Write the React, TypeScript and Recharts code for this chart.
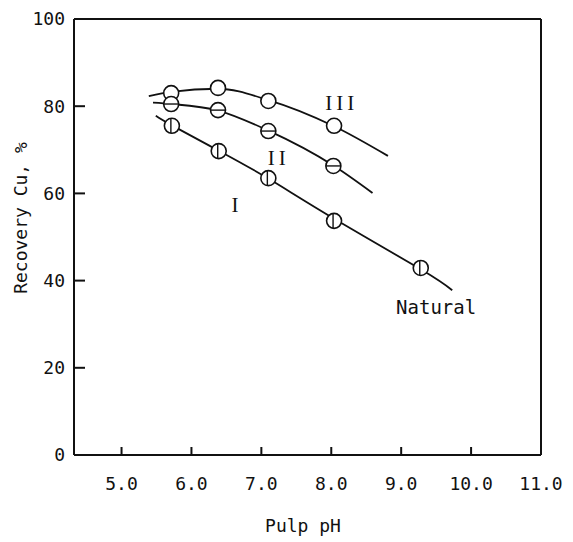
import { ComposedChart, Line, Scatter, XAxis, YAxis } from "recharts";

const xTicks = [5, 6, 7, 8, 9, 10, 11];
const yTicks = [0, 20, 40, 60, 80, 100];

// measured recovery points (pulp pH, recovery %)
const pointsIII = [
  { x: 5.71, y: 83.0 },
  { x: 6.38, y: 84.2 },
  { x: 7.1, y: 81.2 },
  { x: 8.04, y: 75.5 },
];
const pointsII = [
  { x: 5.71, y: 80.5 },
  { x: 6.38, y: 79.1 },
  { x: 7.1, y: 74.3 },
  { x: 8.03, y: 66.3 },
];
const pointsI = [
  { x: 5.72, y: 75.5 },
  { x: 6.39, y: 69.7 },
  { x: 7.1, y: 63.5 },
  { x: 8.04, y: 53.7 },
  { x: 9.28, y: 42.9 },
];

// hand drawn trend curves
const curveIII = [
  { x: 5.39, y: 82.3 },
  { x: 5.71, y: 83.3 },
  { x: 6.38, y: 84.0 },
  { x: 7.1, y: 81.4 },
  { x: 8.04, y: 75.4 },
  { x: 8.81, y: 68.6 },
];
const curveII = [
  { x: 5.45, y: 80.8 },
  { x: 5.71, y: 80.5 },
  { x: 6.38, y: 79.0 },
  { x: 7.1, y: 74.4 },
  { x: 8.03, y: 66.4 },
  { x: 8.59, y: 60.1 },
];
const curveI = [
  { x: 5.49, y: 77.8 },
  { x: 5.72, y: 75.6 },
  { x: 6.39, y: 69.8 },
  { x: 7.1, y: 63.4 },
  { x: 8.04, y: 54.2 },
  { x: 9.28, y: 42.6 },
  { x: 9.73, y: 37.8 },
];

const notes = [
  { x: 8.15, y: 80.7, text: "III", roman: true },
  { x: 7.25, y: 68.2, text: "II", roman: true },
  { x: 6.65, y: 57.4, text: "I", roman: true },
  { x: 9.5, y: 34.0, text: "Natural", roman: false },
];

const MONO = "'DejaVu Sans Mono', 'Liberation Mono', monospace";
const SERIF = "'Liberation Serif', 'DejaVu Serif', serif";
const INK = "#111";

function makeMarker(bar: "none" | "h" | "v") {
  return (props: any) => {
    const { cx, cy } = props;
    const r = 7.5;
    return (
      <g>
        <circle cx={cx} cy={cy} r={r} fill="#fff" stroke={INK} strokeWidth={1.6} />
        {bar === "h" && <line x1={cx - r} x2={cx + r} y1={cy} y2={cy} stroke={INK} strokeWidth={1.4} />}
        {bar === "v" && <line x1={cx - 1} x2={cx - 1} y1={cy - r} y2={cy + r} stroke={INK} strokeWidth={1.4} />}
      </g>
    );
  };
}

function NoteText(props: any) {
  const { cx, cy, payload } = props;
  return (
    <text
      x={cx}
      y={cy}
      textAnchor="middle"
      dominantBaseline="central"
      fontFamily={payload.roman ? SERIF : MONO}
      fontSize={payload.roman ? 21 : 19}
      letterSpacing={payload.roman ? 4 : 0}
      fill={INK}
    >
      {payload.text}
    </text>
  );
}

const tickStyle = { fontFamily: MONO, fontSize: 18, fill: INK };
const lineStyle = { stroke: INK, strokeWidth: 2 };

export default function App() {
  return (
    <div style={{ position: "absolute", left: 0, top: 0, width: 573, height: 542, background: "#fff" }}>
      <ComposedChart width={573} height={542} margin={{ top: 0, right: 0, bottom: 0, left: 0 }}>
        <XAxis
          type="number"
          dataKey="x"
          domain={[4.32, 11]}
          ticks={xTicks}
          interval={0}
          allowDataOverflow
          height={87}
          tickSize={-8}
          tickMargin={30}
          tickFormatter={(v: number) => v.toFixed(1)}
          tick={tickStyle}
          axisLine={lineStyle}
          tickLine={lineStyle}
          label={{
            content: () => (
              <text x={303} y={525} textAnchor="middle" dominantBaseline="central" fontFamily={MONO} fontSize={18} fill={INK}>
                Pulp pH
              </text>
            ),
          }}
        />
        <XAxis
          xAxisId="top"
          orientation="top"
          type="number"
          domain={[4.32, 11]}
          ticks={xTicks.slice(0, 6)}
          interval={0}
          allowDataOverflow
          height={19}
          tickSize={-9}
          tick={false}
          axisLine={lineStyle}
          tickLine={lineStyle}
        />
        <YAxis
          type="number"
          domain={[0, 100]}
          ticks={yTicks}
          interval={0}
          allowDataOverflow
          width={74}
          tickSize={-11}
          tickMargin={20}
          tick={tickStyle}
          axisLine={lineStyle}
          tickLine={lineStyle}
          label={{
            content: () => (
              <text
                transform="translate(20,218) rotate(-90)"
                textAnchor="middle"
                dominantBaseline="central"
                fontFamily={MONO}
                fontSize={18}
                fill={INK}
              >
                Recovery Cu, %
              </text>
            ),
          }}
        />
        <YAxis
          yAxisId="right"
          orientation="right"
          type="number"
          domain={[0, 100]}
          ticks={yTicks}
          interval={0}
          allowDataOverflow
          width={32}
          tickSize={-12}
          tick={false}
          axisLine={lineStyle}
          tickLine={lineStyle}
        />

        <Line data={curveIII} dataKey="y" type="monotone" stroke={INK} strokeWidth={1.8} dot={false} activeDot={false} isAnimationActive={false} />
        <Line data={curveII} dataKey="y" type="monotone" stroke={INK} strokeWidth={1.8} dot={false} activeDot={false} isAnimationActive={false} />
        <Line data={curveI} dataKey="y" type="natural" stroke={INK} strokeWidth={1.8} dot={false} activeDot={false} isAnimationActive={false} />

        <Scatter data={pointsIII} dataKey="y" shape={makeMarker("none")} isAnimationActive={false} />
        <Scatter data={pointsII} dataKey="y" shape={makeMarker("h")} isAnimationActive={false} />
        <Scatter data={pointsI} dataKey="y" shape={makeMarker("v")} isAnimationActive={false} />
        <Scatter data={notes} dataKey="y" shape={NoteText} isAnimationActive={false} />
      </ComposedChart>
    </div>
  );
}
